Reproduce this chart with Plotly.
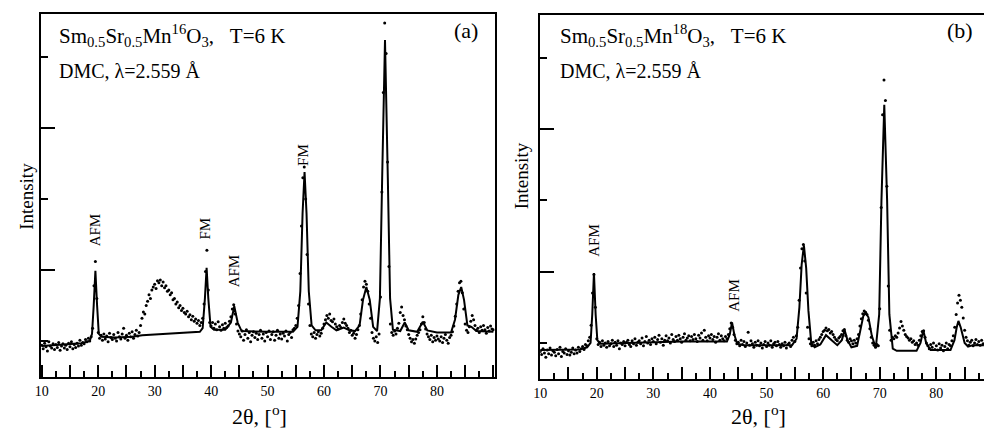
import plotly.graph_objects as go

# ---------------- data (2theta in degrees, intensity in arbitrary units) ----------------
STEP = 0.25  # measurement step of the diffractometer

# Panel (a): Sm0.5Sr0.5Mn16O3 observed points (2theta from 10.0, step 0.25)
obs_a = [
    94, 89, 97, 92, 86, 99, 93, 90, 96, 88,
    95, 91, 98, 87, 93, 96, 90, 94, 88, 97,
    92, 99, 89, 95, 91, 97, 93, 101, 94, 98,
    96, 102, 99, 104, 100, 106, 118, 178, 212, 160,
    112, 104, 108, 101, 110, 103, 107, 99, 111, 105,
    102, 109, 104, 100, 112, 106, 103, 110, 118, 104,
    108, 101, 111, 106, 113, 104, 109, 115, 107, 112,
    122, 132, 141, 138, 150, 156, 165, 160, 172, 176,
    180, 174, 185, 182, 186, 178, 183, 175, 178, 170,
    172, 165, 168, 158, 160, 152, 155, 147, 150, 143,
    146, 140, 138, 142, 134, 137, 130, 135, 128, 131,
    125, 129, 122, 126, 132, 152, 198, 228, 172, 126,
    121, 126, 118, 124, 116, 127, 120, 115, 123, 118,
    125, 119, 121, 128, 134, 145, 151, 138, 124, 114,
    110, 106, 114, 101, 109, 116, 104, 112, 99, 108,
    113, 105, 111, 102, 109, 115, 104, 110, 100, 112,
    106, 114, 102, 109, 113, 101, 108, 115, 104, 110,
    103, 111, 107, 114, 100, 109, 112, 105, 116, 118,
    122, 132, 150, 195, 262, 330, 345, 300, 222, 152,
    122, 110, 106, 112, 104, 109, 113, 107, 111, 118,
    124, 130, 136, 132, 138, 129, 127, 131, 124, 120,
    117, 122, 119, 126, 131, 125, 122, 118, 112, 115,
    108, 111, 104, 109, 116, 122, 138, 158, 176, 184,
    180, 170, 152, 132, 112, 104, 100, 106, 98, 110,
    162, 310, 450, 548, 505, 352, 205, 124, 112, 108,
    114, 110, 118, 125, 140, 148, 136, 130, 121, 116,
    109, 104, 99, 102, 97, 103, 108, 112, 116, 124,
    134, 126, 117, 110, 106, 102, 108, 99, 105, 101,
    107, 103, 100, 106, 98, 104, 109, 101, 97, 105,
    108, 113, 121, 135, 152, 170, 182, 184, 168, 145,
    124, 115, 112, 120, 128, 136, 130, 122, 115, 118,
    112, 120, 115, 122, 116, 111, 119, 114, 121, 117,
    116,
]

# Panel (a) calculated profile (knots)
fit_a_x = [10, 14, 17, 18.5, 18.9, 19.2, 19.5, 19.8, 20.1, 20.6, 23, 26, 27.8, 38.0, 38.5,
           38.9, 39.2, 39.5, 39.9, 40.5, 42.5, 43.5, 44.1, 44.7, 45.4, 50, 54.5, 55.3, 55.8,
           56.2, 56.55, 56.9, 57.3, 57.8, 58.5, 59.5, 60.4, 61.3, 62.2, 63.5, 64.5, 65.5,
           66.3, 66.9, 67.5, 68.1, 68.7, 69.4, 69.9, 70.3, 70.8, 71.3, 71.7, 72.2, 73.5,
           74.3, 75, 76.5, 77.5, 78.3, 80, 82.5, 83.2, 83.8, 84.3, 84.8, 85.4, 86.1, 87, 90]
fit_a_y = [93, 95, 97, 100, 110, 150, 199, 150, 110, 106, 105, 106, 108, 113, 118,
           160, 203, 160, 120, 116, 116, 126, 149, 126, 114, 113, 113, 120, 170,
           280, 338, 280, 170, 122, 115, 115, 126, 120, 115, 119, 115, 114,
           122, 158, 176, 158, 120, 114, 160, 330, 524, 330, 160, 116, 114,
           126, 115, 113, 127, 115, 112, 112, 130, 165, 176, 158, 122, 120, 114, 113]

# Panel (b): Sm0.5Sr0.5Mn18O3 observed points (2theta from 10.0, step 0.25)
obs_b = [
    88, 84, 92, 86, 80, 90, 85, 93, 83, 89,
    87, 82, 91, 85, 94, 81, 88, 86, 92, 84,
    89, 83, 87, 93, 85, 90, 86, 94, 88, 92,
    95, 91, 98, 96, 103, 108, 125, 170, 196, 150,
    106, 98, 101, 95, 103, 97, 100, 94, 102, 96,
    99, 104, 95, 101, 97, 103, 92, 100, 98, 102,
    96, 101, 104, 98, 95, 103, 99, 106, 97, 101,
    103, 99, 107, 96, 102, 109, 100, 104, 98, 106,
    102, 108, 99, 105, 111, 101, 106, 97, 104, 110,
    103, 107, 100, 112, 105, 102, 109, 104, 111, 106,
    101, 108, 113, 104, 107, 110, 103, 109, 105, 112,
    106, 102, 111, 107, 114, 104, 118, 108, 103, 110,
    107, 112, 105, 109, 101, 108, 113, 104, 110, 106,
    103, 109, 106, 112, 120, 128, 122, 112, 104, 99,
    101, 96, 104, 98, 102, 95, 100, 115, 97, 103,
    99, 94, 101, 97, 103, 96, 100, 93, 98, 102,
    95, 100, 97, 103, 94, 99, 101, 96, 102, 98,
    94, 99, 96, 101, 93, 98, 100, 95, 104, 108,
    102, 110, 122, 160, 205, 232, 238, 215, 170, 122,
    106, 99, 96, 101, 97, 103, 99, 105, 108, 112,
    116, 118, 121, 117, 119, 114, 116, 112, 108, 105,
    103, 107, 109, 112, 117, 119, 110, 104, 101, 106,
    103, 99, 104, 100, 106, 112, 124, 134, 141, 145,
    143, 140, 132, 120, 108, 100, 97, 94, 98, 96,
    148, 290, 420, 469, 440, 320, 180, 118, 104, 108,
    106, 110, 108, 114, 121, 130, 124, 118, 112, 109,
    107, 104, 106, 101, 103, 98, 100, 97, 104, 110,
    116, 117, 108, 100, 96, 92, 98, 94, 100, 91,
    96, 90, 99, 93, 97, 89, 95, 100, 92, 98,
    96, 103, 110, 122, 140, 156, 167, 160, 150, 135,
    118, 108, 103, 97, 101, 104, 96, 100, 105, 98,
    102, 97, 104, 99,
]

fit_b_x = [10, 15, 17, 18.3, 18.9, 19.2, 19.5, 19.8, 20.1, 20.6, 25, 30, 35, 40, 43.0, 43.5,
           43.9, 44.3, 44.8, 46, 50, 54.5, 55.3, 55.8, 56.2, 56.6, 57.0, 57.4, 57.9, 58.5,
           59.5, 60.5, 61.5, 62.5, 63.3, 63.8, 64.3, 65, 66, 66.6, 67.1, 67.5, 68, 68.6,
           69.3, 69.9, 70.3, 70.8, 71.3, 71.7, 72.3, 73, 76.5, 77.2, 77.7, 78.2, 79, 82.5,
           83.2, 83.6, 83.9, 84.3, 85, 85.6, 86.5, 88.4]
fit_b_y = [90, 90, 91, 94, 100, 140, 198, 140, 104, 99, 100, 101, 102, 102, 102, 112,
           129, 112, 99, 97, 97, 97, 106, 150, 210, 237, 205, 145, 100, 94,
           98, 111, 104, 97, 104, 118, 104, 94, 96, 118, 138, 142, 136, 110,
           93, 140, 300, 434, 300, 140, 92, 89, 89, 100, 118, 100, 90, 90,
           104, 122, 131, 122, 100, 95, 97, 97]

x_tick_vals = [10, 15, 20, 25, 30, 35, 40, 45, 50, 55, 60, 65, 70, 75, 80, 85, 90]
x_tick_text = ["10", "", "20", "", "30", "", "40", "", "50", "", "60", "", "70", "", "80", "", ""]
x_minor_vals = [12.5, 17.5, 22.5, 27.5, 32.5, 37.5, 42.5, 47.5, 52.5, 57.5, 62.5, 67.5,
                72.5, 77.5, 82.5, 87.5]
y_major_vals = [200, 400]
y_minor_vals = [100, 300, 500]

obs_a_x = [round(10 + STEP * i, 2) for i in range(len(obs_a))]
obs_b_x = [round(10 + STEP * i, 2) for i in range(len(obs_b))]

# ---------------- figure ----------------
W, H = 984, 430
SERIF = "Liberation Serif"

fig = go.Figure()
fig.add_trace(go.Scatter(x=obs_a_x, y=obs_a, mode="markers",
                         marker=dict(color="black", size=3), xaxis="x", yaxis="y"))
fig.add_trace(go.Scatter(x=fit_a_x, y=fit_a_y, mode="lines",
                         line=dict(color="black", width=2), xaxis="x", yaxis="y"))
fig.add_trace(go.Scatter(x=obs_b_x, y=obs_b, mode="markers",
                         marker=dict(color="black", size=3), xaxis="x2", yaxis="y2"))
fig.add_trace(go.Scatter(x=fit_b_x, y=fit_b_y, mode="lines",
                         line=dict(color="black", width=2), xaxis="x2", yaxis="y2"))


def xaxis(domain, rng, anchor):
    return dict(domain=domain, range=rng, anchor=anchor, showgrid=False, zeroline=False,
                showline=True, linecolor="black", linewidth=2, mirror=True,
                ticks="inside", ticklen=12, tickwidth=1.5, tickcolor="black",
                tickmode="array", tickvals=x_tick_vals, ticktext=x_tick_text,
                tickfont=dict(family=SERIF, size=14, color="black"),
                minor=dict(ticks="inside", ticklen=6, tickwidth=1.5, tickcolor="black",
                           tickmode="array", tickvals=x_minor_vals, showgrid=False))


def yaxis(domain, rng, anchor, mirror):
    return dict(domain=domain, range=rng, anchor=anchor, showgrid=False, zeroline=False,
                showline=True, linecolor="black", linewidth=2, mirror=mirror,
                ticks="inside", ticklen=14, tickwidth=1.5, tickcolor="black",
                tickmode="array", tickvals=y_major_vals, showticklabels=False,
                minor=dict(ticks="inside", ticklen=7, tickwidth=1.5, tickcolor="black",
                           tickmode="array", tickvals=y_minor_vals, showgrid=False))


fig.update_layout(
    width=W, height=H, margin=dict(l=0, r=0, t=0, b=0),
    paper_bgcolor="white", plot_bgcolor="white", showlegend=False,
    font=dict(family=SERIF, color="black"),
    xaxis=xaxis([34 / W, 491 / W], [9.82, 90.2], "y"),
    yaxis=yaxis([1 - 377 / H, 1 - 14 / H], [49.3, 560.6], "x", True),
    xaxis2=xaxis([537 / W, 1.0], [10, 88.42], "y2"),
    yaxis2=yaxis([1 - 379 / H, 1 - 15 / H], [49.5, 560.0], "x2", False),
)


def ann(text, px, py, size, xanchor="center", angle=0):
    fig.add_annotation(text=text, x=px / W, y=1 - py / H, xref="paper", yref="paper",
                       xanchor=xanchor, yanchor="middle", showarrow=False, textangle=angle,
                       font=dict(family=SERIF, size=size, color="black"))


NB = "\u00a0"
ann("Sm<sub>0.5</sub>Sr<sub>0.5</sub>Mn<sup>16</sup>O<sub>3</sub>," + NB + NB + NB + "T=6 K", 50, 36, 21, "left")
ann("DMC, λ=2.559 Å", 50, 71, 20, "left")
ann("(a)", 476, 30, 22, "right")
ann("Sm<sub>0.5</sub>Sr<sub>0.5</sub>Mn<sup>18</sup>O<sub>3</sub>," + NB + NB + NB + "T=6 K", 555, 36, 21, "left")
ann("DMC, λ=2.559 Å", 555, 71, 20, "left")
ann("(b)", 975, 30, 22, "right")

ann("Intensity", 20, 196, 19, angle=-90)
ann("Intensity", 518, 176, 19, angle=-90)

ann("AFM", 89, 230, 15, angle=-90)
ann("FM", 199, 229, 15, angle=-90)
ann("AFM", 229, 271, 15, angle=-90)
ann("FM", 298, 155, 15, angle=-90)
ann("AFM", 591, 240, 15, angle=-90)
ann("AFM", 732, 295, 15, angle=-90)

ann("2θ, [<sup>o</sup>]", 254, 415, 22)
ann("2θ, [<sup>o</sup>]", 757, 415, 22)

fig.write_html("out.html", config={"displayModeBar": False},
               post_script="document.body.style.margin='0';document.body.style.overflow='hidden';")
